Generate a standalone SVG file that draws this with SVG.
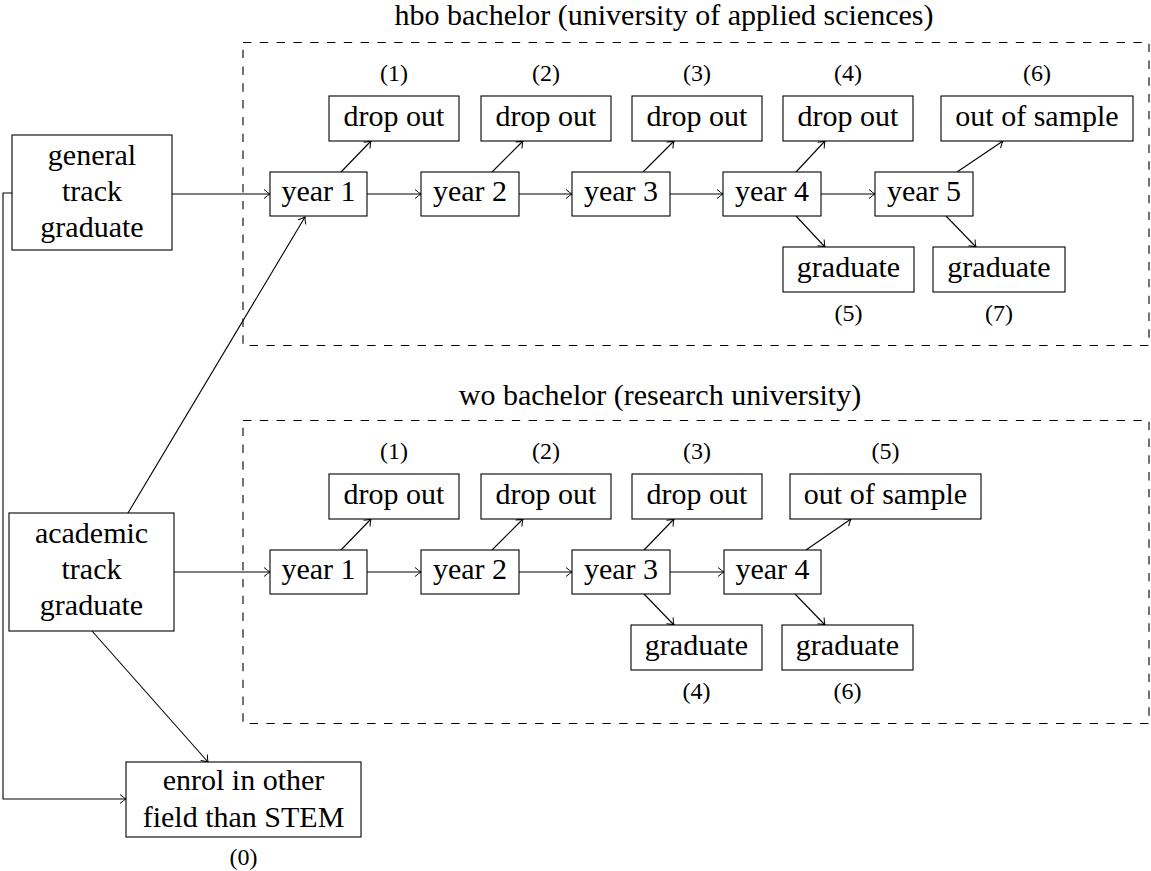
<svg xmlns="http://www.w3.org/2000/svg" width="1151" height="871" viewBox="0 0 1151 871">
<style>
rect.n{fill:#fff;stroke:#000;stroke-width:1.1}
rect.grp{fill:none;stroke:#000;stroke-width:1.1;stroke-dasharray:8.4 8.4}
text{font-family:"Liberation Serif","Times New Roman",serif;fill:#000;text-anchor:middle}
.t{font-size:30px}
.l{font-size:24px}
.h{font-size:30px}
#connectors path,#connectors line{fill:none;stroke:#000;stroke-width:1.1;marker-end:url(#ah)}
</style>
<defs>
<marker id="ah" viewBox="-8 -6 10 12" markerWidth="10" markerHeight="12" refX="0" refY="0" orient="auto" markerUnits="userSpaceOnUse">
<path d="M-6,-4.5 Q-2,-1 0,0 Q-2,1 -6,4.5" fill="none" stroke="#000" stroke-width="1"/>
</marker>
</defs>
<g id="group-hbo">
<rect class="grp" x="243" y="42.5" width="906" height="303"/>
<text class="h" x="664" y="25">hbo bachelor (university of applied sciences)</text>
</g>
<g id="group-wo">
<rect class="grp" x="243" y="420.5" width="906" height="303"/>
<text class="h" x="660" y="405">wo bachelor (research university)</text>
</g>
<g id="connectors">
<line x1="172" y1="194" x2="270" y2="194"/>
<line x1="367" y1="194" x2="421" y2="194"/>
<line x1="519" y1="194" x2="572" y2="194"/>
<line x1="670" y1="194" x2="723" y2="194"/>
<line x1="821" y1="194" x2="875" y2="194"/>
<line x1="341" y1="172" x2="371" y2="141"/>
<line x1="492" y1="172" x2="523" y2="141"/>
<line x1="643" y1="172" x2="674" y2="141"/>
<line x1="796" y1="172" x2="825" y2="141"/>
<line x1="796" y1="216" x2="825" y2="247"/>
<line x1="957" y1="172" x2="1003" y2="141"/>
<line x1="946" y1="216" x2="976" y2="247"/>
<line x1="174" y1="572" x2="270" y2="572"/>
<line x1="367" y1="572" x2="421" y2="572"/>
<line x1="519" y1="572" x2="572" y2="572"/>
<line x1="670" y1="572" x2="724" y2="572"/>
<line x1="341" y1="550" x2="371" y2="519"/>
<line x1="492" y1="550" x2="523" y2="519"/>
<line x1="644" y1="550" x2="674" y2="519"/>
<line x1="644" y1="594" x2="674" y2="625"/>
<line x1="806" y1="550" x2="851" y2="519"/>
<line x1="795" y1="594" x2="825" y2="625"/>
<line x1="128" y1="513" x2="305" y2="217"/>
<line x1="92" y1="631" x2="208" y2="762"/>
<path d="M12,193 H3 V799 H126"/>
</g>
<g id="general"><rect class="n" x="12" y="135" width="160" height="115"/>
<text class="t" x="92" y="165">general</text><text class="t" x="92" y="201">track</text><text class="t" x="92" y="237">graduate</text></g>
<g id="academic"><rect class="n" x="9" y="513" width="165" height="118"/>
<text class="t" x="91.5" y="543">academic</text><text class="t" x="91.5" y="579">track</text><text class="t" x="91.5" y="615">graduate</text></g>
<g id="enrol"><rect class="n" x="126" y="762" width="235" height="75"/>
<text class="t" x="243.5" y="790">enrol in other</text><text class="t" x="243.5" y="827">field than STEM</text>
<text class="l" x="243.5" y="865">(0)</text></g>
<g id="hbo-y1"><rect class="n" x="270" y="172" width="97" height="44"/><text class="t" x="318.5" y="201">year 1</text></g>
<g id="hbo-y2"><rect class="n" x="421" y="172" width="98" height="44"/><text class="t" x="470" y="201">year 2</text></g>
<g id="hbo-y3"><rect class="n" x="572" y="172" width="98" height="44"/><text class="t" x="621" y="201">year 3</text></g>
<g id="hbo-y4"><rect class="n" x="723" y="172" width="98" height="44"/><text class="t" x="772" y="201">year 4</text></g>
<g id="hbo-y5"><rect class="n" x="875" y="172" width="98" height="44"/><text class="t" x="924" y="201">year 5</text></g>
<g id="hbo-d1"><rect class="n" x="329" y="96" width="130" height="45"/><text class="t" x="394" y="126">drop out</text><text class="l" x="394" y="81">(1)</text></g>
<g id="hbo-d2"><rect class="n" x="481" y="96" width="130" height="45"/><text class="t" x="546" y="126">drop out</text><text class="l" x="546" y="81">(2)</text></g>
<g id="hbo-d3"><rect class="n" x="632" y="96" width="130" height="45"/><text class="t" x="697" y="126">drop out</text><text class="l" x="697" y="81">(3)</text></g>
<g id="hbo-d4"><rect class="n" x="783" y="96" width="130" height="45"/><text class="t" x="848" y="126">drop out</text><text class="l" x="848" y="81">(4)</text></g>
<g id="hbo-oos"><rect class="n" x="941" y="96" width="192" height="45"/><text class="t" x="1037" y="126">out of sample</text><text class="l" x="1037" y="81">(6)</text></g>
<g id="hbo-g1"><rect class="n" x="783" y="247" width="131" height="45"/><text class="t" x="848.5" y="277">graduate</text><text class="l" x="848.5" y="321">(5)</text></g>
<g id="hbo-g2"><rect class="n" x="933" y="247" width="132" height="45"/><text class="t" x="999" y="277">graduate</text><text class="l" x="999" y="321">(7)</text></g>
<g id="wo-y1"><rect class="n" x="270" y="550" width="97" height="44"/><text class="t" x="318.5" y="579">year 1</text></g>
<g id="wo-y2"><rect class="n" x="421" y="550" width="98" height="44"/><text class="t" x="470" y="579">year 2</text></g>
<g id="wo-y3"><rect class="n" x="572" y="550" width="98" height="44"/><text class="t" x="621" y="579">year 3</text></g>
<g id="wo-y4"><rect class="n" x="724" y="550" width="97" height="44"/><text class="t" x="772.5" y="579">year 4</text></g>
<g id="wo-d1"><rect class="n" x="329" y="474" width="130" height="45"/><text class="t" x="394" y="504">drop out</text><text class="l" x="394" y="459">(1)</text></g>
<g id="wo-d2"><rect class="n" x="481" y="474" width="130" height="45"/><text class="t" x="546" y="504">drop out</text><text class="l" x="546" y="459">(2)</text></g>
<g id="wo-d3"><rect class="n" x="632" y="474" width="130" height="45"/><text class="t" x="697" y="504">drop out</text><text class="l" x="697" y="459">(3)</text></g>
<g id="wo-oos"><rect class="n" x="790" y="474" width="191" height="45"/><text class="t" x="885.5" y="504">out of sample</text><text class="l" x="885.5" y="459">(5)</text></g>
<g id="wo-g1"><rect class="n" x="631" y="625" width="131" height="45"/><text class="t" x="696.5" y="655">graduate</text><text class="l" x="696.5" y="699">(4)</text></g>
<g id="wo-g2"><rect class="n" x="782" y="625" width="131" height="45"/><text class="t" x="847.5" y="655">graduate</text><text class="l" x="847.5" y="699">(6)</text></g>
</svg>
